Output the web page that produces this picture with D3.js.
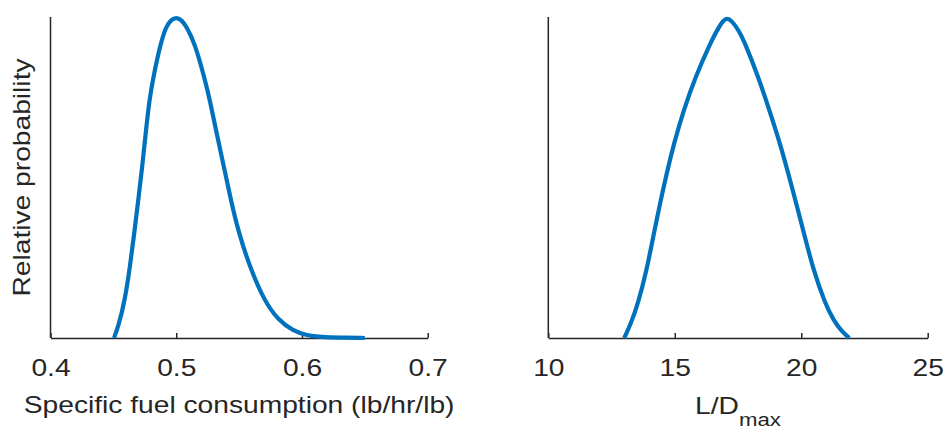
<!DOCTYPE html>
<html>
<head>
<meta charset="utf-8">
<script src="https://cdn.jsdelivr.net/npm/d3@7"></script>
<style>
  body { margin: 0; background: #fff; }
  text { font-family: "Liberation Sans", Arial, sans-serif; fill: #262626; }
</style>
</head>
<body>
<svg id="chart" width="944" height="430"></svg>
<script>
// specific fuel consumption (lb/hr/lb) vs relative probability
var sfcX = [0.4505, 0.4539, 0.4592, 0.4632, 0.4666, 0.4698, 0.4730, 0.4757, 0.4786, 0.4818, 0.4876,
            0.4918, 0.4960, 0.5000, 0.5040, 0.5082, 0.5148, 0.5222, 0.5268, 0.5321, 0.5379, 0.5434,
            0.5498, 0.5585, 0.5697, 0.5810, 0.5930, 0.6040, 0.6150, 0.6300, 0.6500];
var sfcP = [0, 0.035, 0.118, 0.222, 0.326, 0.430, 0.534, 0.638, 0.741, 0.814, 0.918,
            0.970, 0.992, 0.999, 0.992, 0.970, 0.918, 0.814, 0.741, 0.638, 0.534, 0.430,
            0.326, 0.222, 0.118, 0.056, 0.022, 0.008, 0.003, 0.001, 0];

// L/D max vs relative probability
var ldX = [13.0, 13.27, 13.55, 13.89, 14.15, 14.42, 14.67, 14.97, 15.35, 15.82, 16.40, 16.75, 17.0,
           17.25, 17.55, 17.78, 18.30, 18.74, 19.16, 19.53, 19.80, 20.14, 20.48, 20.94, 21.27, 21.6, 21.9];
var ldP = [0, 0.045, 0.108, 0.212, 0.316, 0.42, 0.51, 0.607, 0.71, 0.814, 0.918, 0.97, 0.999,
           0.99, 0.955, 0.918, 0.814, 0.71, 0.607, 0.50, 0.42, 0.316, 0.212, 0.108, 0.056, 0.02, 0];

var sfcTicks = [0.4, 0.5, 0.6, 0.7];
var ldTicks = [10, 15, 20, 25];

var svg = d3.select("#chart");
var yTop = 17, yBot = 338;
var axisColor = "#262626";
var lineColor = "#0072BD";
var fs = 23.5;      // font size
var stretch = 1.2;  // the figure text is wider than plain Arial

function drawPanel(x0, x1, domain, ticks, fmt, xs, ps) {
    var xScale = d3.scaleLinear().domain(domain).range([x0, x1]);
    var yScale = d3.scaleLinear().domain([0, 1]).range([yBot, yTop]);
    var g = svg.append("g");

    // x axis, ticks pointing inward
    var xAxis = d3.axisBottom(xScale)
        .tickValues(ticks)
        .tickFormat(fmt)
        .tickSizeInner(-5)
        .tickSizeOuter(0)
        .tickPadding(21);
    var ax = g.append("g")
        .attr("transform", "translate(0," + yBot + ")")
        .call(xAxis);
    ax.select(".domain").attr("stroke", axisColor).attr("stroke-width", 1.6);
    ax.selectAll(".tick line").attr("stroke", axisColor).attr("stroke-width", 1.5);
    ax.selectAll(".tick text")
        .attr("font-size", fs)
        .attr("font-family", "Liberation Sans, Arial, sans-serif")
        .attr("fill", axisColor)
        .attr("transform", "scale(" + stretch + ",1)");

    // y axis: plain line, no ticks
    g.append("line")
        .attr("x1", x0).attr("x2", x0)
        .attr("y1", yScale(1)).attr("y2", yScale(0))
        .attr("stroke", axisColor)
        .attr("stroke-width", 1.5);

    var line = d3.line()
        .x(function (d, i) { return xScale(xs[i]); })
        .y(function (d) { return yScale(d); })
        .curve(d3.curveBasis);

    g.append("path")
        .datum(ps)
        .attr("fill", "none")
        .attr("stroke", lineColor)
        .attr("stroke-width", 4.2)
        .attr("d", line);

    return xScale;
}

drawPanel(50.5, 427.7, [0.4, 0.7], sfcTicks, d3.format(".1f"), sfcX, sfcP);
drawPanel(548.3, 927.7, [10, 25], ldTicks, d3.format("d"), ldX, ldP);

// axis labels
svg.append("g")
    .attr("transform", "translate(" + (50.5 + 427.7) / 2 + ",413)")
    .append("text")
    .attr("transform", "scale(" + stretch + ",1)")
    .attr("text-anchor", "middle")
    .attr("font-size", fs)
    .text("Specific fuel consumption (lb/hr/lb)");

var ld = svg.append("g")
    .attr("transform", "translate(" + (548.3 + 927.7) / 2 + ",414)")
    .append("text")
    .attr("transform", "scale(" + stretch + ",1)")
    .attr("text-anchor", "middle")
    .attr("font-size", fs);
ld.append("tspan").text("L/D");
ld.append("tspan").attr("font-size", 18.5).attr("dy", 12).text("max");

svg.append("text")
    .attr("transform", "translate(30," + (yTop + yBot) / 2 + ") rotate(-90) scale(" + stretch + ",1)")
    .attr("text-anchor", "middle")
    .attr("font-size", fs)
    .text("Relative probability");
</script>
</body>
</html>
